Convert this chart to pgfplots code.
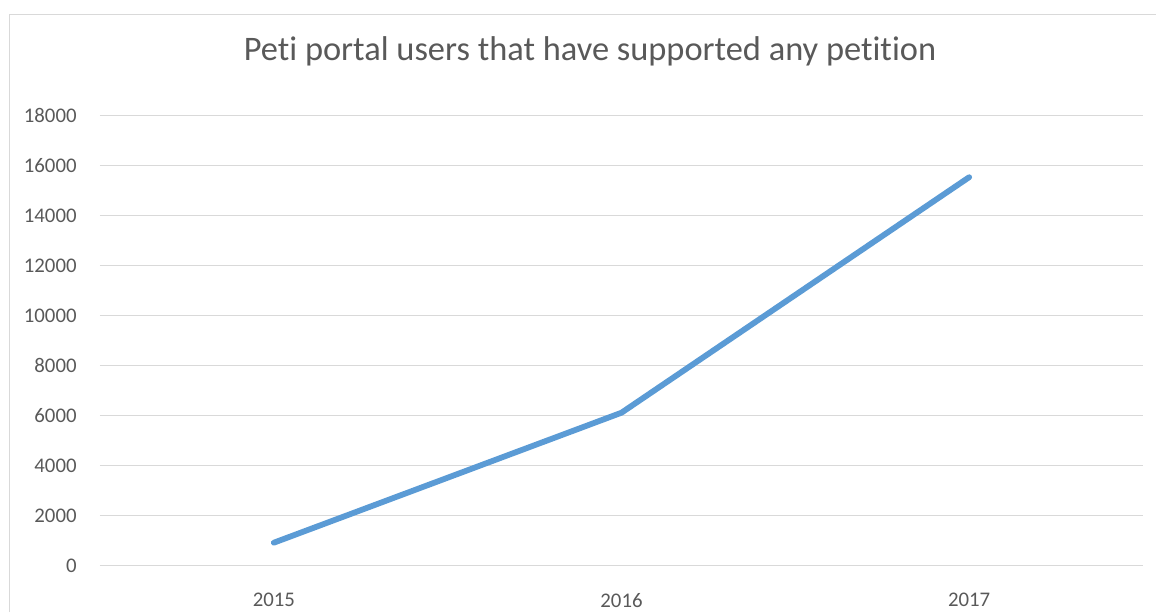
\documentclass[border=0pt]{standalone}
\usepackage{fontspec}
\setmainfont[Ligatures=NoCommon]{Carlito}
\usepackage{pgfplots}
\pgfplotsset{compat=1.18}
\definecolor{linec}{HTML}{5B9BD5}
\definecolor{gridc}{HTML}{D9D9D9}
\definecolor{textc}{HTML}{595959}
\begin{document}
\begin{tikzpicture}
\path[use as bounding box] (0pt,0pt) rectangle (578pt,306pt);
\draw[gridc, line width=0.6pt] (4.75pt,0pt) -- (4.75pt,298.75pt) -- (578pt,298.75pt);
\node[anchor=base, text=textc, font=\fontsize{17.2pt}{20pt}\selectfont, inner sep=0pt] at (295pt,276pt) {Peti portal users that have supported any petition};
\begin{axis}[
  at={(50pt,23.15pt)}, anchor=south west,
  scale only axis, width=521.5pt, height=225pt,
  xmin=-0.5, xmax=2.5, ymin=0, ymax=18000,
  xtick={0,1,2}, xticklabels={2015,2016,2017},
  ytick={0,2000,...,18000},
  axis line style={draw=none},
  axis x line*=bottom,
  axis y line*=left,
  major tick length=0pt,
  ymajorgrids, grid style={gridc, line width=0.6pt},
  tick label style={text=textc, font=\fontsize{10.4pt}{12pt}\selectfont},
  yticklabel style={anchor=east, inner sep=0pt, xshift=-11.5pt},
  xticklabel style={anchor=north, inner sep=0pt, yshift=-13.5pt},
  /pgf/number format/assume math mode=true,
  scaled y ticks=false,
  yticklabel={\pgfmathprintnumber[fixed,1000 sep={}]{\tick}},
  clip=false,
]
\draw[gridc, line width=0.6pt] (axis cs:-0.5,0) -- (axis cs:2.5,0);
\addplot[linec, line width=2.9pt, line cap=round, line join=round, no marks] coordinates {
  (0,920) (1,6120) (2,15540)
};
\end{axis}
\end{tikzpicture}
\end{document}
